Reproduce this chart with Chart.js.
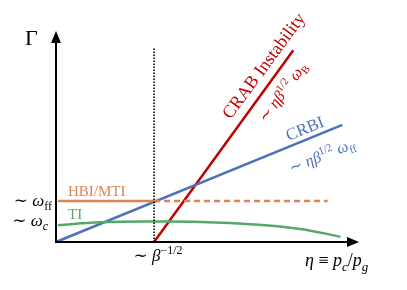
<!DOCTYPE html>
<html>
<head>
<meta charset="utf-8">
<script src="https://cdn.jsdelivr.net/npm/chart.js@4"></script>
<style>
  html, body { margin: 0; padding: 0; background: #fff; }
  canvas { display: block; }
</style>
</head>
<body>
<canvas id="chart" width="407" height="290"></canvas>
<script>
// x in units of beta^-1/2, y in units of omega_ff
const crabX = [1.0, 2.42];
const crabY = [0.0, 4.68];
const crbiX = [0.0, 2.92];
const crbiY = [0.0, 2.86];
const hbiX = [0.02, 1.0];
const hbiY = [1.0, 1.0];
const hbiDashX = [1.0, 2.77];
const hbiDashY = [1.0, 1.0];
const tiX = [0.02, 0.45, 1.0, 1.47, 2.02, 2.49, 2.9];
const tiY = [0.41, 0.48, 0.50, 0.49, 0.43, 0.32, 0.13];
const betaX = [1.0, 1.0];
const betaY = [0.0, 4.76];

const RED = "#c00000";
const BLUE = "#4c72b8";
const ORANGE = "#dd8452";
const GREEN = "#55a868";
const SERIF = "'Liberation Serif', 'DejaVu Serif', serif";
const MATH = "'DejaVu Serif', serif";

const pts = (xs, ys) => xs.map((x, i) => ({ x: x, y: ys[i] }));

// draws text made of pieces (italic / sub / superscript / tilde)
function richText(ctx, segs, size, color, x, y, align, angle) {
  ctx.save();
  ctx.fillStyle = color;
  ctx.textBaseline = "alphabetic";
  const fontOf = (s) => (s.it ? "italic " : "") + Math.round(size * (s.sub || s.sup ? 0.7 : 1)) + "px " + (s.m ? MATH : SERIF);
  let w = 0;
  segs.forEach((s) => { ctx.font = fontOf(s); w += ctx.measureText(s.t).width; });
  ctx.translate(x, y);
  if (angle) ctx.rotate(angle * Math.PI / 180);
  let cx = align === "center" ? -w / 2 : align === "right" ? -w : 0;
  const base = angle ? size * 0.3 : 0;
  segs.forEach((s) => {
    ctx.font = fontOf(s);
    let dy = base;
    if (s.sub) dy += size * 0.25;
    if (s.sup) dy -= size * 0.4;
    ctx.fillText(s.t, cx, dy);
    cx += ctx.measureText(s.t).width;
  });
  ctx.restore();
}

const T = { t: "∼", m: 1 };
const SP = { t: " " };

const labels = [
  { segs: [{ t: "Γ" }], size: 22, color: "#000", x: 25, y: 45, align: "left" },
  { segs: [T, SP, { t: "ω", it: 1 }, { t: "ff", sub: 1 }], size: 17, color: "#000", x: 52, y: 206, align: "right" },
  { segs: [T, SP, { t: "ω", it: 1 }, { t: "c", it: 1, sub: 1 }], size: 17, color: "#000", x: 48, y: 226, align: "right" },
  { segs: [T, SP, { t: "β", it: 1 }, { t: "−1/2", sup: 1 }], size: 17, color: "#000", x: 158, y: 261, align: "center" },
  { segs: [{ t: "η", it: 1 }, { t: " ≡ " }, { t: "p", it: 1 }, { t: "c", it: 1, sub: 1 }, { t: "/" }, { t: "p", it: 1 }, { t: "g", it: 1, sub: 1 }], size: 18, color: "#000", x: 305, y: 266, align: "left" },
  { segs: [{ t: "HBI/MTI" }], size: 15, color: ORANGE, x: 68, y: 196, align: "left" },
  { segs: [{ t: "TI" }], size: 15, color: GREEN, x: 68, y: 219, align: "left" },
  { segs: [{ t: "CRAB Instability" }], size: 17.5, color: RED, x: 264, y: 66, align: "center", angle: -53.5 },
  { segs: [T, SP, { t: "ηβ", it: 1 }, { t: "1/2", sup: 1 }, SP, { t: "ω", it: 1 }, { t: "B", sub: 1 }], size: 15.5, color: RED, x: 283, y: 92, align: "center", angle: -53.5 },
  { segs: [{ t: "CRBI" }], size: 16.5, color: BLUE, x: 305, y: 129, align: "center", angle: -22 },
  { segs: [T, SP, { t: "ηβ", it: 1 }, { t: "1/2", sup: 1 }, SP, { t: "ω", it: 1 }, { t: "ff", sub: 1 }], size: 16, color: BLUE, x: 322, y: 156, align: "center", angle: -22 },
];

const axesPlugin = {
  id: "axesArrows",
  afterDatasetsDraw(chart) {
    const ctx = chart.ctx;
    const a = chart.chartArea;
    ctx.save();
    ctx.strokeStyle = "#000";
    ctx.fillStyle = "#000";
    ctx.lineWidth = 2;
    ctx.beginPath();
    ctx.moveTo(a.left, a.top + 10);
    ctx.lineTo(a.left, a.bottom);
    ctx.lineTo(a.right - 10, a.bottom);
    ctx.stroke();
    // arrow heads
    ctx.beginPath();
    ctx.moveTo(a.left, a.top);
    ctx.lineTo(a.left - 5, a.top + 12);
    ctx.lineTo(a.left + 5, a.top + 12);
    ctx.closePath();
    ctx.fill();
    ctx.beginPath();
    ctx.moveTo(a.right, a.bottom);
    ctx.lineTo(a.right - 12, a.bottom - 5);
    ctx.lineTo(a.right - 12, a.bottom + 5);
    ctx.closePath();
    ctx.fill();
    ctx.restore();
    labels.forEach((l) => richText(ctx, l.segs, l.size, l.color, l.x, l.y, l.align, l.angle));
  },
};

const line = (data, color, extra) => Object.assign({
  data: data,
  borderColor: color,
  borderWidth: 2.5,
  pointRadius: 0,
  fill: false,
  clip: false,
  tension: 0,
}, extra || {});

new Chart(document.getElementById("chart").getContext("2d"), {
  type: "line",
  data: {
    datasets: [
      line(pts(betaX, betaY), "#000", { borderWidth: 1.6, borderDash: [1.6, 1.4] }),
      line(pts(hbiDashX, hbiDashY), ORANGE, { borderDash: [6, 4] }),
      line(pts(hbiX, hbiY), ORANGE),
      line(pts(tiX, tiY), GREEN, { tension: 0.4 }),
      line(pts(crbiX, crbiY), BLUE),
      line(pts(crabX, crabY), RED),
    ],
  },
  options: {
    responsive: false,
    animation: false,
    devicePixelRatio: 1,
    layout: { padding: { left: 56, right: 48, top: 31, bottom: 48 } },
    plugins: { legend: { display: false }, tooltip: { enabled: false } },
    scales: {
      x: { type: "linear", min: 0, max: 3.09, display: false },
      y: { type: "linear", min: 0, max: 5.15, display: false },
    },
  },
  plugins: [axesPlugin],
});
</script>
</body>
</html>
